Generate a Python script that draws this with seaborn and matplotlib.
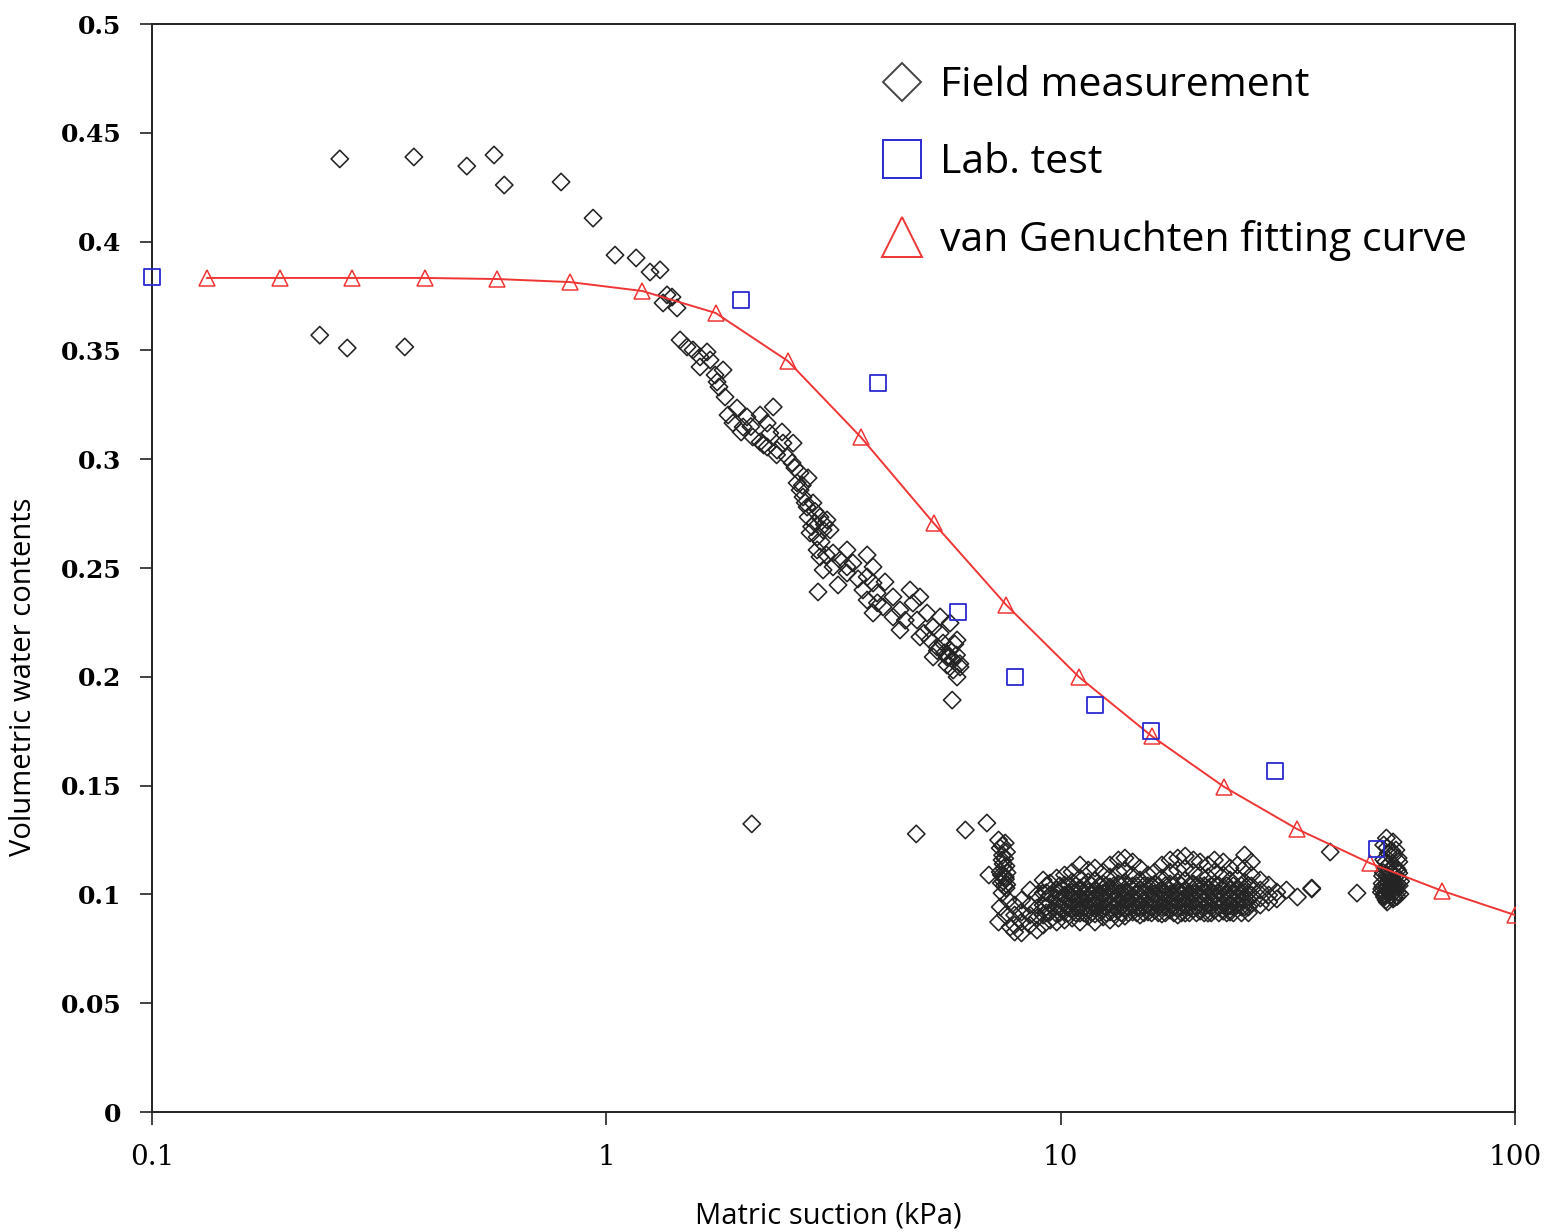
import numpy as np
import pandas as pd
import matplotlib
matplotlib.use("Agg")
import matplotlib.pyplot as plt
from matplotlib.lines import Line2D
import seaborn as sns

# ---------------- data ----------------
# van Genuchten fitting curve (triangles)
vg_suction = [0.132, 0.191, 0.275, 0.398, 0.575, 0.832, 1.2, 1.74, 2.51, 3.63, 5.25,
              7.59, 10.96, 15.85, 22.9, 33.1, 47.9, 69.2, 100]
vg_theta = [0.3833, 0.3833, 0.3833, 0.3833, 0.3828, 0.3814, 0.3773, 0.3672, 0.3451,
            0.3102, 0.2707, 0.2330, 0.2000, 0.1728, 0.1494, 0.1301, 0.1144, 0.1016, 0.0905]

# Lab test (squares)
lab_suction = [0.1, 1.98, 3.96, 5.94, 7.94, 11.9, 15.8, 29.6, 49.6]
lab_theta = [0.3837, 0.3732, 0.335, 0.2298, 0.200, 0.187, 0.175, 0.1567, 0.1209]

# Field measurement: scattered wet points
field_wet_suction = [0.259, 0.377, 0.493, 0.566, 0.596, 0.795, 0.935, 1.045, 1.163, 1.248,
                     1.313, 0.234, 0.269, 0.360]
field_wet_theta = [0.438, 0.4389, 0.4347, 0.4398, 0.426, 0.4274, 0.4108, 0.3938, 0.3925,
                   0.386, 0.387, 0.357, 0.3511, 0.3516]

# Field measurement: descending band
field_band_suction = [1.36, 1.333, 1.431, 1.395, 1.453, 1.505, 1.551, 1.608, 1.666, 1.692,
                      1.608, 1.735, 1.807, 1.753, 1.825, 1.939, 1.853, 1.90, 2.0, 2.04,
                      2.10, 2.18, 2.33, 2.26, 2.29, 2.436, 2.18, 2.26, 2.375, 2.448,
                      2.577, 2.50, 2.564, 2.67, 2.78, 2.63, 2.67, 2.71, 2.766, 2.85,
                      2.78, 2.88, 2.953, 3.06, 2.807, 2.91, 3.0, 3.108, 2.91, 2.953,
                      3.155, 3.387, 3.27, 3.0, 3.155, 3.387, 3.49, 2.924, 3.236, 3.387,
                      3.75, 3.864, 3.75, 3.864, 3.67, 4.106, 3.75, 3.943, 4.276, 4.66,
                      4.43, 4.73, 4.90, 4.276, 3.864, 4.064, 4.43, 4.83, 5.08, 5.24,
                      5.43, 4.90, 5.16, 5.345, 5.51, 5.71, 5.915, 5.62, 5.80, 6.005,
                      5.80, 5.915, 5.62, 5.77, 5.43, 5.24, 5.71, 1.77, 1.98, 2.08,
                      2.22, 2.37, 2.74, 2.83, 2.97, 3.05, 5.90, 5.55, 5.85, 6.0,
                      2.60, 2.70, 2.88, 3.02, 3.58, 3.95, 4.55, 5.00, 5.35, 5.68]
field_band_theta = [0.3755, 0.3718, 0.3695, 0.3745, 0.3548, 0.3516, 0.3502, 0.347, 0.3493, 0.3456,
                    0.3424, 0.3387, 0.341, 0.3355, 0.3286, 0.3235, 0.3203, 0.3166, 0.3148, 0.3194,
                    0.3102, 0.3203, 0.324, 0.3166, 0.312, 0.3125, 0.3079, 0.3056, 0.3042, 0.3074,
                    0.3074, 0.301, 0.2983, 0.2937, 0.2914, 0.2891, 0.2858, 0.2826, 0.278, 0.2799,
                    0.2734, 0.2707, 0.2734, 0.2721, 0.2661, 0.2642, 0.2675, 0.2675, 0.2583, 0.2551,
                    0.2569, 0.2583, 0.2537, 0.2491, 0.2505, 0.2505, 0.2523, 0.239, 0.2422, 0.2477,
                    0.256, 0.2505, 0.2459, 0.2431, 0.2399, 0.2436, 0.2353, 0.2385, 0.2367, 0.2399,
                    0.2307, 0.2339, 0.2367, 0.2275, 0.2293, 0.2321, 0.2215, 0.2261, 0.2293, 0.2229,
                    0.2275, 0.2183, 0.2169, 0.2137, 0.2155, 0.2123, 0.2169, 0.2091, 0.2077, 0.2045,
                    0.2031, 0.1999, 0.2054, 0.1893, 0.2201, 0.2091, 0.2247, 0.3332, 0.3125, 0.3150,
                    0.3065, 0.3020, 0.2800, 0.2690, 0.2620, 0.2560, 0.2100, 0.2110, 0.2150, 0.2060,
                    0.2960, 0.2880, 0.2760, 0.2700, 0.2450, 0.2340, 0.2260, 0.2200, 0.2120, 0.2090]

# Field measurement: isolated dry points
field_iso_suction = [2.09, 4.81, 6.17, 6.88, 39.2, 44.9, 35.7, 6.95]
field_iso_theta = [0.1324, 0.1278, 0.1296, 0.1328, 0.1195, 0.1006, 0.1025, 0.1089]

# Field measurement: vertical cluster near 7.5 kPa
field_v_suction = [7.3, 7.55, 7.36, 7.6, 7.43, 7.58, 7.36, 7.55, 7.4, 7.58, 7.43,
                   7.36, 7.3, 7.74, 7.55, 7.66, 7.45, 7.62, 7.50, 7.48, 7.52, 7.40,
                   7.56, 7.47, 7.44, 7.53, 7.49, 7.61]
field_v_theta = [0.125, 0.1236, 0.1213, 0.1195, 0.1158, 0.1131, 0.1103, 0.108, 0.1052, 0.1029,
                 0.1006, 0.0942, 0.0873, 0.085, 0.0905, 0.0974, 0.1180, 0.1100, 0.1120, 0.1060,
                 0.1040, 0.1090, 0.1070, 0.1140, 0.1225, 0.1165, 0.1085, 0.1045]

# Field measurement: dense dry band (columns of suction, theta values in each column)
field_low_suction = [7.92, 8.2, 8.56, 8.87, 9.15, 9.48, 9.8, 10.2, 10.6, 11.03, 11.5, 11.9,
                     12.4, 12.84, 13.4, 13.85, 14.4, 14.95, 15.57, 16.1, 16.7, 17.41, 18.1,
                     18.8, 19.6, 20.27, 21.1, 21.8, 22.8, 23.6, 24.5, 25.4, 26.3, 27.5, 28.7,
                     29.9, 31.4, 33.2, 35.7]
field_low_theta = [
    [0.0951, 0.0905, 0.0859, 0.0827],
    [0.0974, 0.0919, 0.0873, 0.0823],
    [0.102, 0.0951, 0.0905, 0.0859],
    [0.0997, 0.0937, 0.0891, 0.0836],
    [0.1066, 0.1006, 0.0951, 0.0905, 0.0859],
    [0.1052, 0.0997, 0.096, 0.0919, 0.0882],
    [0.1075, 0.102, 0.0983, 0.0947, 0.091, 0.0873],
    [0.1089, 0.1043, 0.0997, 0.096, 0.0923, 0.0882],
    [0.1103, 0.1057, 0.1011, 0.0974, 0.0937, 0.0891],
    [0.1135, 0.1075, 0.1029, 0.0988, 0.0951, 0.0914, 0.0873],
    [0.1112, 0.1057, 0.1011, 0.0974, 0.0937, 0.090],
    [0.1121, 0.1066, 0.102, 0.0983, 0.0947, 0.091, 0.0873],
    [0.1103, 0.1048, 0.1006, 0.097, 0.0933, 0.0896],
    [0.1135, 0.108, 0.1034, 0.0993, 0.0956, 0.0919, 0.0882],
    [0.1158, 0.1103, 0.1048, 0.1002, 0.0965, 0.0928, 0.0891],
    [0.1167, 0.1112, 0.1057, 0.1011, 0.0974, 0.0937, 0.090],
    [0.1149, 0.1089, 0.1039, 0.0993, 0.0956, 0.0919],
    [0.1121, 0.1066, 0.102, 0.0979, 0.0942, 0.0905],
    [0.1089, 0.1039, 0.0993, 0.0956, 0.0919],
    [0.1103, 0.1048, 0.1002, 0.0965, 0.0928],
    [0.1135, 0.1075, 0.102, 0.0979, 0.0942, 0.091],
    [0.1158, 0.1103, 0.1048, 0.1002, 0.0965, 0.0928],
    [0.1167, 0.1112, 0.1057, 0.1011, 0.0974, 0.0937, 0.0905],
    [0.1176, 0.1121, 0.1066, 0.102, 0.0983, 0.0947, 0.0914],
    [0.1158, 0.1103, 0.1048, 0.1006, 0.097, 0.0933],
    [0.1149, 0.1089, 0.1039, 0.0997, 0.096, 0.0923],
    [0.1135, 0.108, 0.1029, 0.0988, 0.0951, 0.0914],
    [0.1158, 0.1103, 0.1048, 0.1002, 0.0965, 0.0928],
    [0.1149, 0.1089, 0.1034, 0.0993, 0.0956, 0.0923],
    [0.1121, 0.1066, 0.102, 0.0983, 0.0947, 0.0919],
    [0.1135, 0.1075, 0.1029, 0.0993, 0.0956],
    [0.1181, 0.1121, 0.1057, 0.1011, 0.0974, 0.0942],
    [0.1149, 0.1089, 0.1039, 0.0997, 0.096],
    [0.1066, 0.102, 0.0983, 0.0951],
    [0.1043, 0.0997, 0.0965],
    [0.1011, 0.0979],
    [0.102],
    [0.0988],
    [0.1029],
]

# Field measurement: dense core of the dry band (interleaved columns)
field_core_suction = [9.3, 9.95, 10.4, 10.8, 11.25, 11.7, 12.15, 12.6, 13.1, 13.6, 14.1,
                      14.7, 15.25, 15.85, 16.4, 17.0, 17.75, 18.45, 19.2, 19.9, 20.7, 21.45,
                      22.3, 23.2, 24.0, 25.0, 25.9]
field_core_theta = [0.1040, 0.1008, 0.0975, 0.0942, 0.0915]

# Field measurement: cluster near 53 kPa
field_r_suction = [52.1, 53.9, 51.4, 54.7, 52.6, 55.3, 51.9, 54.2, 52.9, 55.5, 51.1, 53.6,
                   52.1, 54.9, 50.9, 53.1, 55.8, 51.6, 53.9, 52.3, 51.0, 52.8, 54.5, 56.0,
                   51.5, 53.3, 55.0, 50.8, 52.4, 54.0, 55.6, 51.8, 53.5, 55.2, 52.0, 54.3,
                   51.2, 52.7, 54.1, 55.4, 51.7, 53.2, 54.6, 52.5, 53.8, 55.1,
                   51.3, 52.2, 53.0, 53.7, 54.4, 55.2, 51.6, 52.6, 53.4, 54.8,
                   51.4, 52.9, 54.0, 55.5, 52.3, 53.6]
field_r_theta = [0.1259, 0.1241, 0.1227, 0.1204, 0.119, 0.1167, 0.1149, 0.1131, 0.1112, 0.1098,
                 0.1085, 0.1066, 0.1048, 0.1039, 0.1025, 0.1011, 0.1002, 0.0988, 0.0979, 0.0965,
                 0.1050, 0.1070, 0.1080, 0.1060, 0.1000, 0.0995, 0.0990, 0.1010, 0.1030, 0.1020,
                 0.1040, 0.1120, 0.1095, 0.1110, 0.0975, 0.0985, 0.1035, 0.1055, 0.1045, 0.1075,
                 0.1005, 0.1025, 0.1015, 0.1085, 0.1065, 0.1050,
                 0.1100, 0.1090, 0.1075, 0.1060, 0.1030, 0.1010, 0.0995, 0.1015, 0.1040, 0.1120,
                 0.1160, 0.1140, 0.1180, 0.1150, 0.1215, 0.1200]

# ------------- assemble field data -------------
low_x, low_y = [], []
for s, col in zip(field_low_suction, field_low_theta):
    for t in col:
        low_x.append(s)
        low_y.append(t)
for s in field_core_suction:
    for t in field_core_theta:
        low_x.append(s)
        low_y.append(t)

field_x = (field_wet_suction + field_band_suction + field_iso_suction + field_v_suction
           + low_x + field_r_suction)
field_y = (field_wet_theta + field_band_theta + field_iso_theta + field_v_theta
           + low_y + field_r_theta)
field_df = pd.DataFrame({"suction": field_x, "theta": field_y})
lab_df = pd.DataFrame({"suction": lab_suction, "theta": lab_theta})
vg_df = pd.DataFrame({"suction": vg_suction, "theta": vg_theta})

# ------------- style -------------
sns.set_theme(style="white")
plt.rcParams["font.family"] = ["DejaVu Sans"]
plt.rcParams["text.color"] = "black"
plt.rcParams["axes.labelcolor"] = "black"
plt.rcParams["xtick.color"] = "black"
plt.rcParams["ytick.color"] = "black"

DIAMOND_EC = "#242424"
BLUE = "#2a2ad0"
RED = "#f03535"

fig = plt.figure(figsize=(15.47, 12.32), dpi=100)
ax = fig.add_axes([152 / 1547, 1 - 1112 / 1232, (1515 - 152) / 1547, (1112 - 24) / 1232])
ax.set_xscale("log")

sns.scatterplot(data=field_df, x="suction", y="theta", ax=ax, marker="D", s=78,
                facecolor="none", edgecolor=DIAMOND_EC, linewidth=1.15, legend=False,
                zorder=3)
sns.lineplot(data=vg_df, x="suction", y="theta", ax=ax, color=RED, linewidth=1.4,
             marker="^", markersize=11.5, markerfacecolor="none", markeredgecolor=RED,
             markeredgewidth=1.1, sort=False, estimator=None, legend=False, zorder=4)
sns.scatterplot(data=lab_df, x="suction", y="theta", ax=ax, marker="s", s=125,
                facecolor="none", edgecolor=BLUE, linewidth=1.3, legend=False, zorder=5,
                clip_on=False)

ax.set_xlim(0.1, 100)
ax.set_ylim(0, 0.5)
ax.set_xticks([0.1, 1, 10, 100])
ax.set_xticklabels(["0.1", "1", "10", "100"])
ax.xaxis.set_minor_locator(matplotlib.ticker.NullLocator())
yt = [0, 0.05, 0.1, 0.15, 0.2, 0.25, 0.3, 0.35, 0.4, 0.45, 0.5]
ax.set_yticks(yt)
ax.set_yticklabels(["0", "0.05", "0.1", "0.15", "0.2", "0.25", "0.3", "0.35", "0.4",
                    "0.45", "0.5"])

for sp in ax.spines.values():
    sp.set_visible(True)
    sp.set_color("#222222")
    sp.set_linewidth(1.4)

ax.tick_params(axis="y", which="major", direction="out", length=9, width=1.2,
               color="#222222", pad=13, left=True)
ax.tick_params(axis="x", which="major", direction="out", length=9, width=1.2,
               color="#222222", pad=14, bottom=True)
for lab in ax.get_yticklabels():
    lab.set_fontfamily("DejaVu Serif")
    lab.set_fontweight("bold")
    lab.set_fontsize(18)
for lab in ax.get_xticklabels():
    lab.set_fontfamily("DejaVu Serif")
    lab.set_fontsize(20)

ax.set_xlabel("Matric suction (kPa)", fontfamily=["Open Sans", "DejaVu Sans"], fontsize=21,
              color="black")
ax.set_ylabel("Volumetric water contents", fontfamily=["Open Sans", "DejaVu Sans"],
              fontsize=21, color="black")
ax.xaxis.set_label_coords(0.496, -0.082)
ax.yaxis.set_label_coords(-0.0836, 0.40)

handles = [
    Line2D([], [], linestyle="none", marker="D", markersize=19, markerfacecolor="none",
           markeredgecolor="#444444", markeredgewidth=1.4),
    Line2D([], [], linestyle="none", marker="s", markersize=27, markerfacecolor="none",
           markeredgecolor=BLUE, markeredgewidth=1.4),
    Line2D([], [], linestyle="none", marker="^", markersize=29, markerfacecolor="none",
           markeredgecolor=RED, markeredgewidth=1.4),
]
labels = ["Field measurement", "Lab. test", "van Genuchten fitting curve"]
leg = ax.legend(handles, labels, loc="upper left", bbox_to_anchor=(0.535, 0.962),
                frameon=False, prop={"family": ["Open Sans", "DejaVu Sans"], "size": 29.5},
                handlelength=1.0, handletextpad=0.43, labelspacing=0.9, borderpad=0,
                borderaxespad=0)
for t in leg.get_texts():
    t.set_color("black")

fig.savefig("out.png", dpi=100, facecolor="white")
